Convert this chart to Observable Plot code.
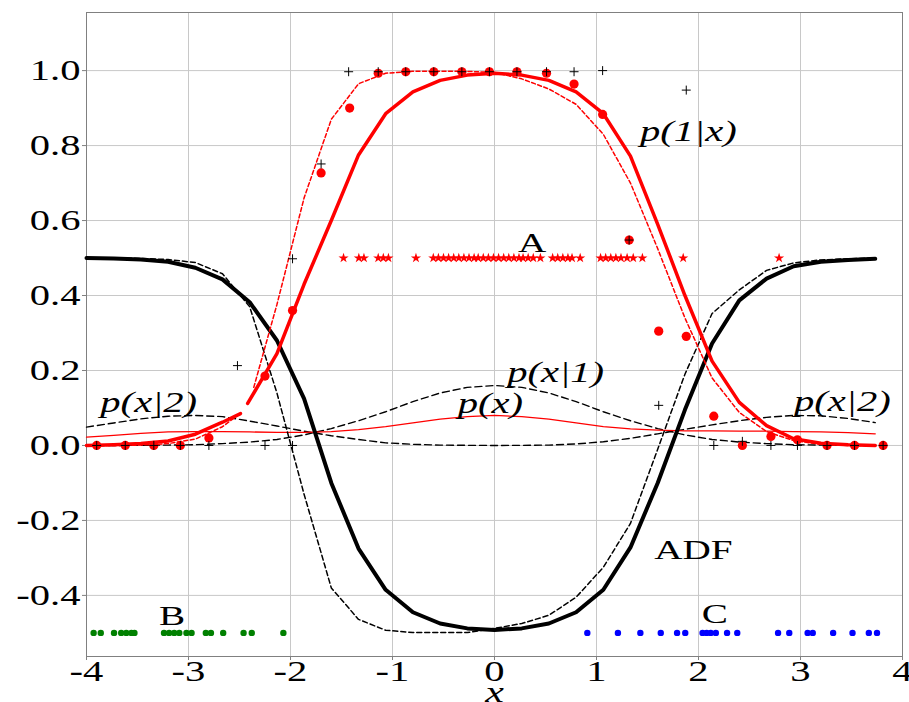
<!DOCTYPE html>
<html><head><meta charset="utf-8">
<script src="https://cdn.jsdelivr.net/npm/d3@7"></script>
<script src="https://cdn.jsdelivr.net/npm/@observablehq/plot@0.6"></script>
<style>body{margin:0;background:#fff;} svg{display:block;}</style>
</head><body><div id="chart"></div>
<script>
// ---- data ----
const xTicks = [-4, -3, -2, -1, 0, 1, 2, 3, 4];
const yTicks = [-0.4, -0.2, 0.0, 0.2, 0.4, 0.6, 0.8, 1.0];

const gridX = [-4, -3.733, -3.467, -3.2, -2.933, -2.667, -2.4, -2.133, -1.867, -1.6, -1.333, -1.067, -0.8, -0.533, -0.267, 0, 0.267, 0.533, 0.8, 1.067, 1.333, 1.6, 1.867, 2.133, 2.4, 2.667, 2.933, 3.2, 3.467, 3.733];
const adfEst = [0.500, 0.499, 0.496, 0.490, 0.474, 0.443, 0.382, 0.280, 0.125, -0.100, -0.275, -0.385, -0.445, -0.475, -0.488, -0.492, -0.488, -0.475, -0.445, -0.385, -0.272, -0.100, 0.095, 0.272, 0.387, 0.445, 0.478, 0.490, 0.495, 0.498];
const adfTrue = [0.500, 0.500, 0.499, 0.496, 0.488, 0.458, 0.370, 0.140, -0.130, -0.380, -0.464, -0.493, -0.499, -0.499, -0.499, -0.488, -0.475, -0.453, -0.405, -0.325, -0.208, -0.010, 0.190, 0.352, 0.415, 0.467, 0.487, 0.495, 0.498, 0.500];
const pXgiven1 = [0.000, 0.000, 0.0004, 0.001, 0.002, 0.005, 0.009, 0.016, 0.028, 0.045, 0.066, 0.090, 0.117, 0.140, 0.155, 0.160, 0.155, 0.140, 0.117, 0.090, 0.066, 0.045, 0.028, 0.016, 0.009, 0.005, 0.002, 0.001, 0.0004, 0.000];
const pXgiven2 = [0.049, 0.060, 0.071, 0.078, 0.080, 0.077, 0.065, 0.052, 0.038, 0.026, 0.016, 0.007, 0.003, 0.001, 0.0003, 0.000, 0.0003, 0.001, 0.004, 0.010, 0.019, 0.031, 0.043, 0.055, 0.066, 0.075, 0.080, 0.079, 0.072, 0.061];
const pXmix = [0.022, 0.027, 0.032, 0.036, 0.037, 0.037, 0.036, 0.035, 0.035, 0.037, 0.042, 0.050, 0.060, 0.070, 0.077, 0.080, 0.077, 0.070, 0.060, 0.050, 0.044, 0.041, 0.039, 0.039, 0.038, 0.038, 0.037, 0.036, 0.034, 0.031];

// p(1|x) estimate (thick red), drawn in two pieces
const p1EstLeftX = [-4, -3.733, -3.467, -3.2, -2.933, -2.667, -2.49];
const p1EstLeft = [0.000, 0.002, 0.005, 0.012, 0.030, 0.062, 0.085];
const p1EstRightX = [-2.42, -2.133, -1.867, -1.6, -1.333, -1.067, -0.8, -0.533, -0.267, 0, 0.267, 0.533, 0.8, 1.067, 1.333, 1.6, 1.867, 2.133, 2.4, 2.667, 2.933, 3.2, 3.467, 3.733];
const p1EstRight = [0.112, 0.245, 0.430, 0.600, 0.775, 0.885, 0.943, 0.974, 0.988, 0.993, 0.988, 0.974, 0.943, 0.885, 0.772, 0.590, 0.400, 0.225, 0.115, 0.053, 0.018, 0.006, 0.002, 0.000];
// p(1|x) true (thin red dashed), two pieces
const p1TrueLeftX = [-4, -3.733, -3.467, -3.2, -2.933, -2.667, -2.49];
const p1TrueLeft = [0.000, 0.000, 0.001, 0.005, 0.017, 0.050, 0.086];
const p1TrueRightX = [-2.36, -2.133, -1.867, -1.6, -1.333, -1.067, -0.8, -0.533, -0.267, 0, 0.267, 0.533, 0.8, 1.067, 1.333, 1.6, 1.867, 2.133, 2.4, 2.667, 2.933, 3.2, 3.467, 3.733];
const p1TrueRight = [0.155, 0.376, 0.660, 0.870, 0.965, 0.993, 0.998, 0.998, 0.998, 0.995, 0.978, 0.951, 0.910, 0.830, 0.700, 0.525, 0.340, 0.180, 0.088, 0.037, 0.013, 0.003, 0.000, 0.000];

// red circle markers
const circleX = [-3.9, -3.62, -3.34, -3.08, -2.8, -2.25, -1.98, -1.70, -1.42, -1.14, -0.87, -0.595, -0.32, -0.05, 0.22, 0.51, 0.78, 1.06, 1.32, 1.61, 1.88, 2.15, 2.43, 2.71, 2.97, 3.26, 3.53, 3.81];
const circleY = [0, 0, 0, 0, 0.02, 0.185, 0.36, 0.727, 0.90, 0.993, 0.997, 0.997, 0.997, 0.997, 0.997, 0.993, 0.964, 0.883, 0.548, 0.305, 0.291, 0.078, 0.0, 0.024, 0.015, 0, 0, 0];
// black plus markers
const plusX = [-3.9, -3.62, -3.34, -3.08, -2.8, -2.52, -2.25, -1.98, -1.98, -1.70, -1.43, -1.14, -0.87, -0.595, -0.32, -0.05, 0.22, 0.51, 0.78, 1.06, 1.32, 1.61, 1.88, 2.15, 2.43, 2.71, 2.97, 3.26, 3.53, 3.81];
const plusY = [0, 0, 0, 0, 0, 0.213, 0, 0, 0.498, 0.751, 0.997, 0.997, 0.997, 0.997, 0.997, 0.997, 0.997, 0.997, 0.997, 1.0, 0.548, 0.107, 0.948, 0, 0.011, 0, 0, 0, 0, 0];

// sample rows
const sampleA = [-1.48, -1.33, -1.28, -1.14, -1.09, -1.04, -0.77, -0.60, -0.55, -0.50, -0.45, -0.40, -0.35, -0.30, -0.25, -0.20, -0.16, -0.11, -0.06, -0.01, 0.04, 0.09, 0.14, 0.19, 0.24, 0.28, 0.33, 0.38, 0.45, 0.57, 0.62, 0.67, 0.72, 0.76, 0.84, 1.04, 1.09, 1.14, 1.19, 1.24, 1.30, 1.36, 1.45, 1.85, 2.79];
const sampleB = [-3.93, -3.86, -3.73, -3.66, -3.61, -3.56, -3.53, -3.24, -3.19, -3.14, -3.09, -3.02, -2.97, -2.83, -2.78, -2.66, -2.46, -2.38, -2.07];
const sampleC = [0.91, 1.21, 1.43, 1.63, 1.79, 1.87, 2.04, 2.08, 2.12, 2.17, 2.28, 2.38, 2.78, 2.89, 3.07, 3.12, 3.32, 3.51, 3.67, 3.75];
const levelA = 0.5, levelB = -0.5, levelC = -0.5;

// labels
const italicLabels = ["p(1|x)", "p(x|1)", "p(x)", "p(x|2)", "p(x|2)"];
const italicLabelX = [1.90, 0.60, -0.04, -3.39, 3.41];
const italicLabelY = [0.837, 0.193, 0.112, 0.115, 0.118];
const plainLabels = ["A", "ADF", "B", "C"];
const plainLabelX = [0.37, 1.95, -3.16, 2.16];
const plainLabelY = [0.54, -0.28, -0.455, -0.45];
const xAxisLabel = "x";

// ---- chart ----
const rows = (xs, ys) => xs.map((x, i) => ({x, y: ys[i]}));
const level = (xs, v) => xs.map(x => ({x, y: v}));

const svg = Plot.plot({
  width: 909, height: 702,
  marginLeft: 86, marginRight: 7, marginTop: 12, marginBottom: 46,
  style: {fontFamily: "'Liberation Serif', 'Times New Roman', serif", fontSize: "29px", background: "white", color: "black"},
  x: {domain: [-4, 4]},
  y: {domain: [-0.563, 1.155]},
  marks: [
    Plot.gridX(xTicks, {stroke: "#c8c8c8", strokeOpacity: 1}),
    Plot.gridY(yTicks, {stroke: "#c8c8c8", strokeOpacity: 1}),
    Plot.frame({stroke: "#808080"}),
    Plot.axisX(xTicks, {tickFormat: d => String(d), tickSize: 4, tickPadding: 0, fontSize: 29, label: null, stroke: "#808080", fill: "black"}),
    Plot.axisY(yTicks, {tickFormat: d => d.toFixed(1), tickSize: 4, tickPadding: 2, fontSize: 29, label: null, stroke: "#808080", fill: "black"}),
    // densities
    Plot.line(rows(gridX, pXgiven1), {x: "x", y: "y", stroke: "black", strokeWidth: 1.4, strokeDasharray: "7,4"}),
    Plot.line(rows(gridX, pXgiven2), {x: "x", y: "y", stroke: "black", strokeWidth: 1.4, strokeDasharray: "7,4"}),
    Plot.line(rows(gridX, pXmix), {x: "x", y: "y", stroke: "#ff0000", strokeWidth: 1.3}),
    // ADF
    Plot.line(rows(gridX, adfTrue), {x: "x", y: "y", stroke: "black", strokeWidth: 1.5, strokeDasharray: "5,3"}),
    Plot.line(rows(gridX, adfEst), {x: "x", y: "y", stroke: "black", strokeWidth: 4}),
    // p(1|x)
    Plot.line(rows(p1TrueLeftX, p1TrueLeft), {x: "x", y: "y", stroke: "#ff0000", strokeWidth: 1.5, strokeDasharray: "4,2.5"}),
    Plot.line(rows(p1TrueRightX, p1TrueRight), {x: "x", y: "y", stroke: "#ff0000", strokeWidth: 1.5, strokeDasharray: "4,2.5"}),
    Plot.line(rows(p1EstLeftX, p1EstLeft), {x: "x", y: "y", stroke: "#ff0000", strokeWidth: 3.5}),
    Plot.line(rows(p1EstRightX, p1EstRight), {x: "x", y: "y", stroke: "#ff0000", strokeWidth: 3.5}),
    // markers
    Plot.dot(rows(circleX, circleY), {x: "x", y: "y", fill: "#ff0000", r: 4.6}),
    Plot.dot(rows(plusX, plusY), {x: "x", y: "y", symbol: "plus", stroke: "black", r: 3, strokeWidth: 1}),
    Plot.dot(level(sampleA, levelA), {x: "x", y: "y", symbol: "star", fill: "#ff0000", r: 3.2}),
    Plot.dot(level(sampleB, levelB), {x: "x", y: "y", fill: "#008000", r: 3.2}),
    Plot.dot(level(sampleC, levelC), {x: "x", y: "y", fill: "#0000ff", r: 3.2}),
    // labels
    Plot.text(italicLabels.map((t, i) => ({t, x: italicLabelX[i], y: italicLabelY[i]})), {x: "x", y: "y", text: "t", fontSize: 29, fontStyle: "italic", fill: "black"}),
    Plot.text(plainLabels.map((t, i) => ({t, x: plainLabelX[i], y: plainLabelY[i]})), {x: "x", y: "y", text: "t", fontSize: 28, fill: "black"}),
    Plot.text([{t: xAxisLabel, x: 0, y: -0.66}], {x: "x", y: "y", text: "t", fontSize: 30, fontStyle: "italic", fill: "black"})
  ]
});

// widen text horizontally like the reference (around each anchor point)
svg.querySelectorAll("text").forEach(t => {
  const tr = t.getAttribute("transform") || "";
  t.setAttribute("transform", `${tr} scale(1.4,1)`);
});

document.getElementById("chart").appendChild(svg);
</script>
</body></html>
